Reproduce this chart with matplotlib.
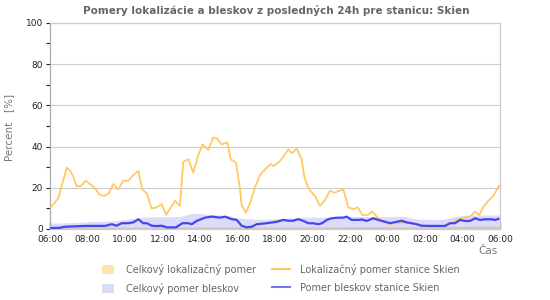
import matplotlib
matplotlib.use('Agg')
import matplotlib.pyplot as plt
from matplotlib.patches import Patch
from matplotlib.lines import Line2D
import numpy as np

# hours after 06:00 for the half-hour grid of the overall ratios
grid_h = [i * 0.5 for i in range(49)]

# overall flash ratio (Celkový pomer bleskov), %
total_flash = [2.8, 2.9, 3.0, 3.2, 3.5, 3.6, 3.8, 4.0, 4.5, 5.2, 5.8, 6.0, 6.0, 5.9,
               6.2, 7.5, 7.6, 7.0, 6.8, 6.5, 5.3, 5.0, 4.7, 4.7, 5.0, 5.2, 5.3, 5.7,
               5.7, 5.7, 5.8, 6.0, 6.0, 6.1, 6.1, 6.0, 6.0, 6.2, 6.0, 4.8, 4.7, 4.7,
               4.7, 5.8, 6.6, 6.8, 6.8, 6.8, 6.8]

# overall localization ratio (Celkový lokalizačný pomer), %
total_loc = [1.2, 1.2, 1.2, 1.1, 1.1, 1.1, 1.1, 1.0, 1.0, 1.0, 1.0, 1.0, 1.0, 1.0,
             1.0, 1.0, 1.1, 1.1, 1.1, 1.1, 1.0, 1.0, 1.0, 1.0, 1.0, 1.0, 1.0, 1.0,
             1.1, 1.1, 1.1, 1.1, 1.2, 1.2, 1.2, 1.2, 1.1, 1.1, 1.1, 1.1, 1.2, 1.2,
             1.3, 1.3, 1.3, 1.4, 1.4, 1.4, 1.4]

# station localization ratio (Lokalizačný pomer stanice Skien)
loc_h = [0.0, 0.44, 0.89, 1.07, 1.24, 1.42, 1.65, 1.9, 2.13, 2.36, 2.63, 2.88, 3.11,
         3.38, 3.64, 3.91, 4.18, 4.39, 4.71, 4.92, 5.16, 5.42, 5.69, 5.96, 6.19, 6.67,
         6.93, 7.11, 7.38, 7.64, 7.91, 8.14, 8.44, 8.71, 8.89, 9.16, 9.46, 9.64, 9.92,
         10.13, 10.22, 10.45, 10.7, 10.93, 11.2, 11.52, 11.77, 11.91, 12.23, 12.44,
         12.71, 12.92, 13.16, 13.42, 13.56, 13.78, 14.13, 14.4, 14.67, 14.93, 15.16,
         15.64, 15.91, 16.18, 16.41, 16.66, 16.94, 17.19, 17.51, 17.87, 18.22, 18.5,
         19.0, 19.4, 19.7, 20.0, 20.5, 21.0, 21.3, 21.6, 21.96, 22.4, 22.67, 22.9,
         23.11, 23.38, 23.64, 23.86, 23.95]
loc_val = [10.0, 14.9, 29.7, 28.3, 25.4, 20.8, 20.8, 23.4, 21.8, 20.2, 16.8, 16.0, 17.0,
           21.8, 19.2, 23.4, 23.4, 25.7, 28.1, 19.2, 17.3, 10.0, 10.5, 12.1, 6.8, 13.7,
           11.2, 32.6, 33.8, 27.3, 35.9, 41.0, 38.3, 44.4, 44.0, 41.0, 42.0, 33.8, 32.2,
           19.7, 11.6, 7.9, 13.2, 20.2, 26.2, 29.4, 31.5, 30.5, 32.6, 35.0,
           38.6, 36.7, 39.1, 33.8, 25.4, 19.7, 16.0, 11.2, 14.1, 18.6, 17.6,
           19.2, 10.5, 9.6, 10.5, 6.8, 6.8, 8.4, 5.2, 3.5, 2.4, 2.8,
           3.0, 2.6, 1.8, 1.3, 1.2, 1.3, 2.5, 4.0, 5.2, 6.0, 8.4, 6.8,
           10.8, 13.7, 16.0, 19.5, 21.0]

# station flash ratio (Pomer bleskov stanice Skien)
flash_h = [0.0, 0.18, 0.53, 0.8, 1.87, 2.93, 3.29, 3.56, 3.82, 4.16, 4.44, 4.71, 4.98,
           5.17, 5.42, 5.69, 5.96, 6.22, 6.72, 7.06, 7.38, 7.56, 7.82, 8.27, 8.62, 9.07,
           9.33, 9.69, 9.96, 10.22, 10.49, 10.76, 11.02, 11.56, 12.09, 12.44, 12.71,
           12.96, 13.24, 13.51, 13.78, 14.03, 14.31, 14.51, 14.76, 15.02, 15.38, 15.64,
           15.82, 16.09, 16.44, 16.64, 16.89, 17.24, 17.51, 17.87, 18.13, 18.49, 18.76,
           19.02, 19.29, 19.56, 19.82, 20.18, 21.07, 21.33, 21.6, 21.87, 22.13, 22.4,
           22.67, 22.93, 23.2, 23.56, 23.73, 23.91]
flash_val = [0.3, 0.5, 0.6, 1.1, 1.5, 1.5, 2.3, 1.6, 2.8, 2.8, 3.2, 4.7, 2.8,
             2.8, 1.6, 1.4, 1.6, 0.8, 0.8, 2.8, 2.8, 2.3, 3.9, 5.5, 6.0, 5.5,
             6.0, 4.8, 4.4, 1.6, 0.8, 1.1, 2.3, 2.8, 3.5, 4.4, 4.0,
             4.0, 4.8, 3.9, 2.8, 2.8, 2.3, 2.8, 4.4, 5.2, 5.5, 5.5,
             6.0, 4.4, 4.4, 4.6, 3.9, 5.2, 4.4, 3.5, 2.8, 3.5, 4.0,
             3.2, 2.8, 2.3, 1.6, 1.5, 1.5, 2.8, 2.8, 4.4, 3.9, 3.9,
             5.2, 4.4, 4.7, 4.7, 4.4, 4.9]

tick_labels = ['06:00', '08:00', '10:00', '12:00', '14:00', '16:00', '18:00',
               '20:00', '22:00', '00:00', '02:00', '04:00', '06:00']

W, H = 550, 300
fig = plt.figure(figsize=(5.5, 3.0), dpi=100)
ax = fig.add_axes([50 / W, 1 - 229 / H, 450 / W, (229 - 22.75) / H])

# fills
ax.fill_between(grid_h, 0, total_flash, color='#dcdcfa', lw=0, zorder=1)
ax.fill_between(grid_h, 0, total_loc, color='#d6c4c0', lw=0, zorder=2)

# station lines
ax.plot(loc_h, loc_val, color='#ffc966', lw=1.3, zorder=3)
ax.plot(flash_h, flash_val, color='#4646ee', lw=1.6, zorder=4)

ax.set_xlim(0, 24)
ax.set_ylim(0, 100)

ax.set_yticks(np.arange(0, 101, 20))
ax.set_yticks(np.arange(10, 100, 20), minor=True)
ax.set_xticks(np.arange(0, 25, 2))
ax.set_xticklabels(tick_labels)
ax.set_xticks(np.arange(0, 24.1, 0.5), minor=True)

ax.tick_params(axis='y', which='both', direction='out', length=3, width=0.8,
               color='#222222', labelsize=6.5, labelcolor='#222222', pad=2)
ax.tick_params(axis='x', which='major', direction='in', length=5, width=0.9,
               color='#111111', labelsize=6.5, labelcolor='#222222', pad=4)
ax.tick_params(axis='x', which='minor', direction='in', length=3, width=0.8,
               color='#111111')

ax.grid(axis='y', which='major', color='#cccccc', lw=0.8, zorder=0)
ax.set_axisbelow(True)
for name, sp in ax.spines.items():
    sp.set_color('#cccccc')
    sp.set_linewidth(0.9)
ax.spines['left'].set_color('#aaaaaa')

fig.text(276 / W, 1 - 11 / H, 'Pomery lokalizácie a bleskov z posledných 24h pre stanicu: Skien',
         ha='center', va='center', fontsize=7.5, fontweight='bold', color='#666666')
fig.text(9 / W, 1 - 127 / H, 'Percent   [%]', rotation=90, ha='center', va='center',
         fontsize=7.5, color='#777777')
fig.text(488 / W, 1 - 251 / H, 'Čas', ha='center', va='center', fontsize=7.5,
         color='#777777')

patch_handles = [Patch(facecolor='#ffe4b0', edgecolor='none'),
                 Patch(facecolor='#dcdcfa', edgecolor='none')]
leg1 = fig.legend(patch_handles, ['Celkový lokalizačný pomer', 'Celkový pomer bleskov'],
                  loc='upper left', bbox_to_anchor=(102 / W, 1 - 264 / H), frameon=False,
                  fontsize=7, labelcolor='#666666', borderpad=0, borderaxespad=0,
                  handlelength=1.2, handleheight=1.1, handletextpad=1.3, labelspacing=0.8)
line_handles = [Line2D([0], [0], color='#ffc966', lw=1.5),
                Line2D([0], [0], color='#7777ee', lw=1.5)]
leg2 = fig.legend(line_handles, ['Lokalizačný pomer stanice Skien', 'Pomer bleskov stanice Skien'],
                  loc='upper left', bbox_to_anchor=(272 / W, 1 - 264 / H), frameon=False,
                  fontsize=7, labelcolor='#666666', borderpad=0, borderaxespad=0,
                  handlelength=1.9, handleheight=1.1, handletextpad=1.0, labelspacing=0.8)

fig.savefig('out.png', dpi=100)
